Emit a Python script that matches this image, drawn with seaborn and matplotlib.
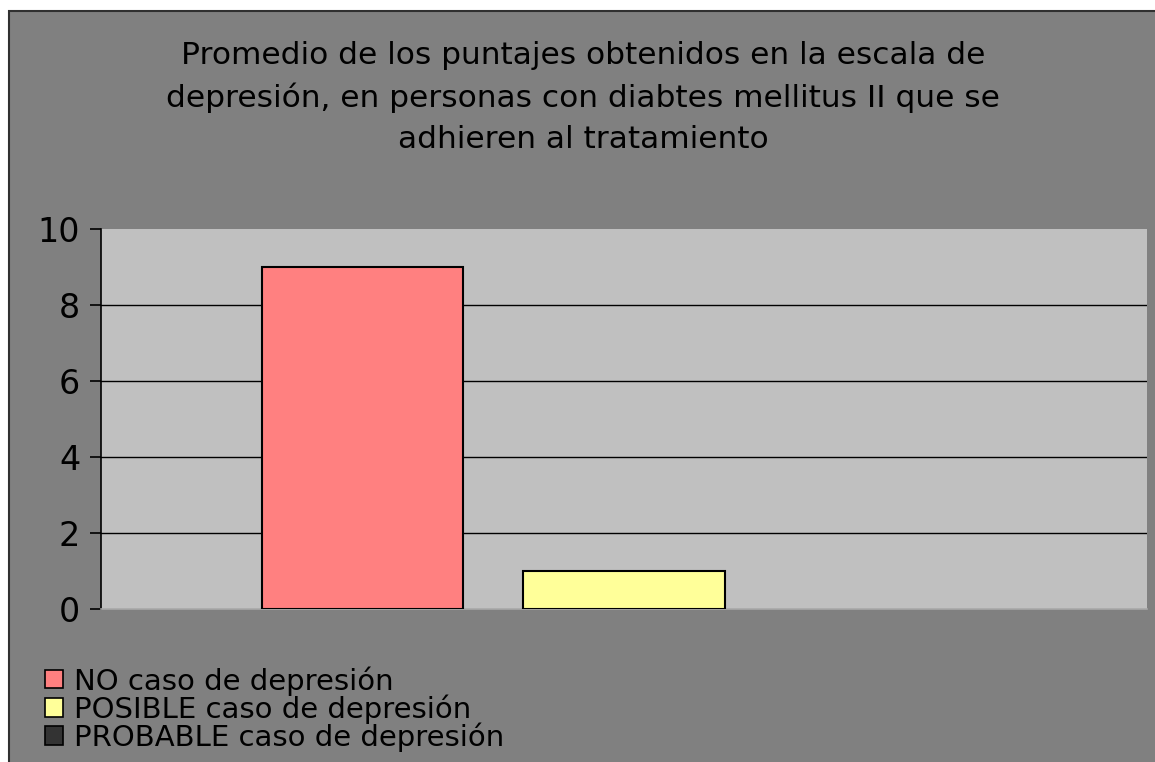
import numpy as np
import pandas as pd
import matplotlib
matplotlib.use("Agg")
import matplotlib.pyplot as plt
import matplotlib.patches as mpatches
import seaborn as sns

# chart data
series = ["NO caso de depresión", "POSIBLE caso de depresión", "PROBABLE caso de depresión"]
values = [9, 1, 0]
colors = ["#FF8080", "#FFFF99", "#333333"]
yticks = [0, 2, 4, 6, 8, 10]
title = ("Promedio de los puntajes obtenidos en la escala de\n"
         "depresión, en personas con diabtes mellitus II que se\n"
         "adhieren al tratamiento")

df = pd.DataFrame({"serie": series, "valor": values})

sns.set_theme(style="white")
plt.rcParams["font.family"] = ["DejaVu Sans"]
plt.rcParams["text.color"] = "black"
plt.rcParams["ytick.color"] = "black"

W, H = 1155, 762
fig = plt.figure(figsize=(W / 100, H / 100), dpi=100, facecolor="white")

# outer chart area with border (only top/left edges visible)
frame = mpatches.Rectangle((8.5 / W, -0.05), 1.1, 1 - 10.5 / H + 0.05,
                           transform=fig.transFigure, facecolor="#808080",
                           edgecolor="#303030", linewidth=1.5, zorder=-1)
fig.patches.append(frame)

ax = fig.add_axes([101 / W, 1 - 609 / H, (1147 - 101) / W, (609 - 229) / H])
ax.set_facecolor("#C0C0C0")

sns.barplot(data=df, x="serie", y="valor", hue="serie", palette=colors,
            width=0.77, edgecolor="black", linewidth=1.5, legend=False,
            saturation=1, ax=ax, zorder=3)
for p in ax.patches:
    if p.get_height() == 0:
        p.set_linewidth(0)

ax.set_xlim(-1.0, 3.0)
ax.set_ylim(0, 10)
ax.set_yticks(yticks)
ax.set_yticklabels([str(t) for t in yticks], fontsize=24)
ax.set_xticks([])
ax.set_xlabel("")
ax.set_ylabel("")
ax.tick_params(axis="y", direction="out", length=8, width=1.2, color="black",
               labelcolor="black", pad=7, left=True)

ax.yaxis.grid(True, color="black", linewidth=1.0, zorder=1)
ax.set_axisbelow(True)
glines = ax.get_ygridlines()
glines[0].set_visible(False)
glines[-1].set_visible(False)

for s in ["top", "right"]:
    ax.spines[s].set_visible(False)
ax.spines["left"].set_color("black")
ax.spines["left"].set_linewidth(1.2)
ax.spines["bottom"].set_color("#A8A8A8")
ax.spines["bottom"].set_linewidth(1.2)

fig.text(0.505, 1 - 41 / H, title, ha="center", va="top", fontsize=22.5,
         linespacing=1.52, color="black")

handles = [mpatches.Patch(facecolor=c, edgecolor="black", linewidth=1.2) for c in colors]
fig.legend(handles, series, loc="upper left", bbox_to_anchor=(45 / W, 1 - 666 / H),
           frameon=False, fontsize=21, handlelength=0.6, handleheight=0.6,
           handletextpad=0.4, labelspacing=-0.05, borderaxespad=0, borderpad=0,
           labelcolor="black")

fig.savefig("out.png", dpi=100, facecolor="white")
